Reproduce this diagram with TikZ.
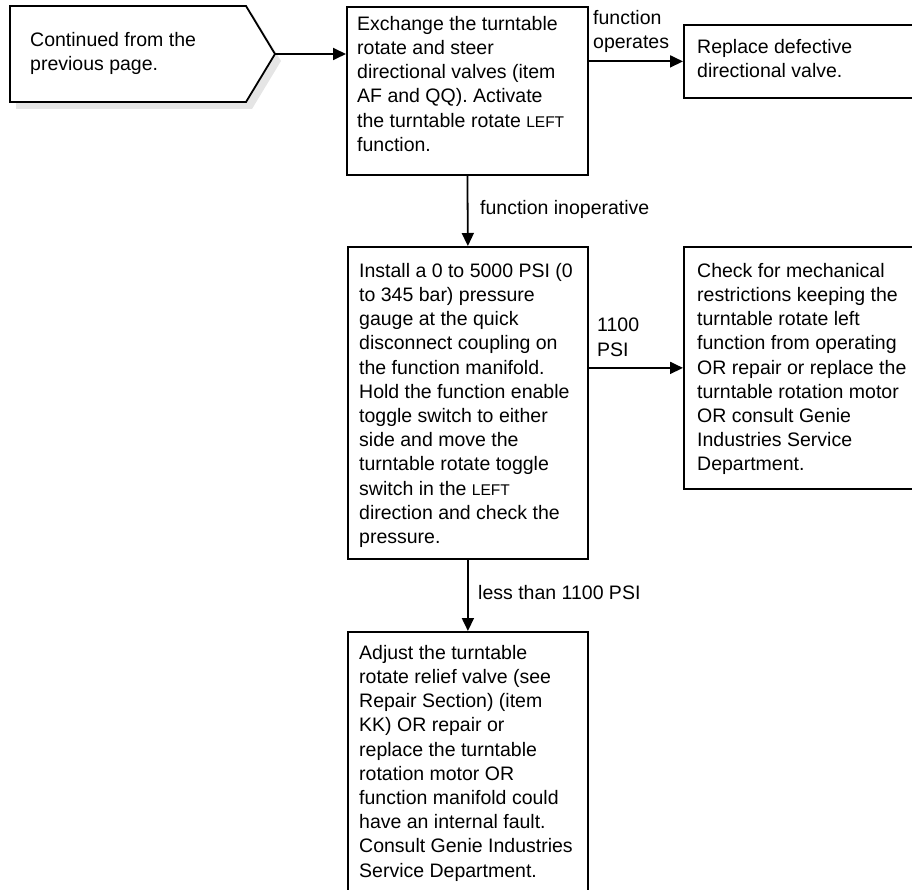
\documentclass[tikz,border=0pt]{standalone}
\usepackage{fontspec}
\setmainfont{Liberation Sans}
\usetikzlibrary{arrows.meta,calc}
\newcommand{\smallcap}[1]{{\fontsize{15.5}{24.2}\selectfont #1}}
\begin{document}
\begin{tikzpicture}[x=1pt,y=-1pt,
 box/.style={draw,line width=1.8pt,inner sep=0pt,anchor=north west},
 txt/.style={anchor=north west,inner sep=0pt,align=left,font=\fontsize{19.5}{24.2}\selectfont,
   execute at begin node={\rule{0pt}{15pt}}},
 conn/.style={line width=1.8pt,-{Triangle[length=13pt,width=12pt]}},
 ]
\useasboundingbox (0,0) rectangle (912,890);
\clip (0,0) rectangle (912,890);
% continuation pentagon with shadow
\fill[black!10] (16,13) -- (252,13) -- (281,61) -- (252,109) -- (16,109) -- cycle;
\draw[line width=1.8pt,fill=white] (10,6) -- (246,6) -- (275,54) -- (246,102) -- (10,102) -- cycle;
\coordinate (conttip) at (275,54);
\node[txt] (ct) at (30,32) {Continued from the\\previous page.};
% boxes
\node[box,minimum width=241pt,minimum height=168pt] (b1) at (346,6) {};
\node[box,minimum width=250pt,minimum height=73pt] (b2) at (683,24) {};
\node[box,minimum width=240pt,minimum height=312pt] (b3) at (347,246) {};
\node[box,minimum width=250pt,minimum height=242pt] (b4) at (683,246) {};
\node[box,minimum width=240pt,minimum height=290pt] (b5) at (347,631) {};
% texts
\node[txt] (t1) at (357,16) {Exchange the turntable\\rotate and steer\\directional valves (item\\AF and QQ). Activate\\the turntable rotate \smallcap{LEFT}\\function.};
\node[txt] (t2) at (697,39) {Replace defective\\directional valve.};
\node[txt] (t3) at (359,263) {Install a 0 to 5000 PSI (0\\to 345 bar) pressure\\gauge at the quick\\disconnect coupling on\\the function manifold.\\Hold the function enable\\toggle switch to either\\side and move the\\turntable rotate toggle\\switch in the \smallcap{LEFT}\\direction and check the\\pressure.};
\node[txt] (t4) at (697,263) {Check for mechanical\\restrictions keeping the\\turntable rotate left\\function from operating\\OR repair or replace the\\turntable rotation motor\\OR consult Genie\\Industries Service\\Department.};
\node[txt] (t5) at (359,645) {Adjust the turntable\\rotate relief valve (see\\Repair Section) (item\\KK) OR repair or\\replace the turntable\\rotation motor OR\\function manifold could\\have an internal fault.\\Consult Genie Industries\\Service Department.};
% connectors
\draw[conn] (conttip) -- (conttip -| b1.west);
\draw[conn] (b2.west -| b1.east) -- (b2.west);
\draw[conn] (b1.south) -- (b3.north);
\draw[conn] (b4.west -| b3.east) -- (b4.west);
\draw[conn] (b3.south) -- (b5.north);
% labels
\node[txt] (l1) at (593,10) {function\\operates};
\node[txt] (l2) at (480,199) {function inoperative};
\node[txt] (l3) at (597,318) {1100\\PSI};
\node[txt] (l4) at (478,584) {less than 1100 PSI};
\end{tikzpicture}
\end{document}
